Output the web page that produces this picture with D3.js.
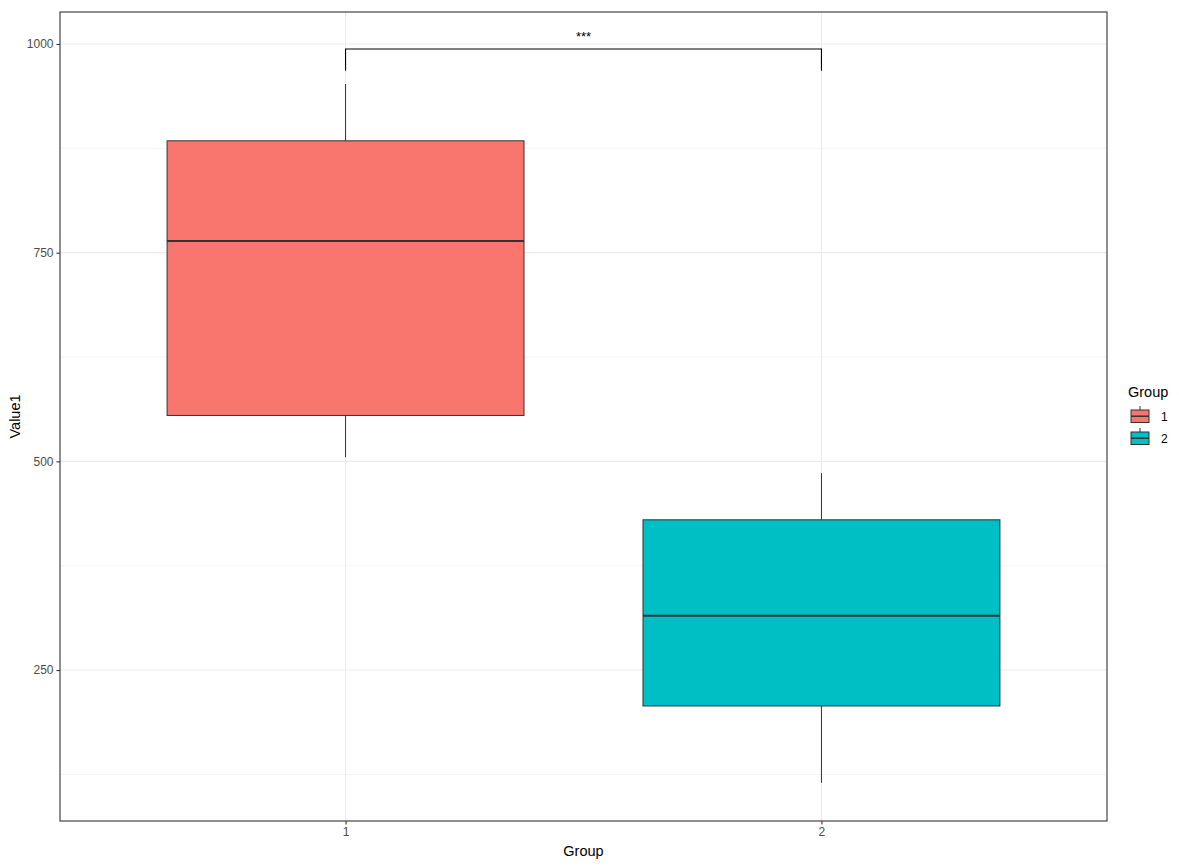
<!DOCTYPE html>
<html>
<head>
<meta charset="utf-8">
<script src="https://cdn.jsdelivr.net/npm/d3@7"></script>
<style>
  body { margin: 0; background: #fff; }
  text { font-family: Arial, "Liberation Sans", sans-serif; }
</style>
</head>
<body>
<svg class="chart" width="1179" height="866"></svg>
<script>
// data
const groups = ["1", "2"];
const colors = ["#F8766D", "#00BFC4"];
const whiskerLow = [505, 115];
const q1 = [555, 207];
const median = [764, 315];
const q3 = [884, 430];
const whiskerHigh = [952, 486];
const yTicks = [250, 500, 750, 1000];
const yMinor = [125, 375, 625, 875];
const bracketY = 994, bracketLegY = 968, sigLabel = "***";

const svg = d3.select(".chart");
const panel = { left: 60, top: 12, right: 1107, bottom: 821 };

const x = d3.scaleLinear().domain([0.4, 2.6]).range([panel.left, panel.right]);
const y = d3.scaleLinear().domain([69.2, 1038.3]).range([panel.bottom, panel.top]);

const g = svg.append("g");

// grid
g.selectAll(".minor").data(yMinor).join("line")
    .attr("x1", panel.left).attr("x2", panel.right)
    .attr("y1", d => y(d)).attr("y2", d => y(d))
    .attr("stroke", "#ebebeb").attr("stroke-width", 0.55);
g.selectAll(".major").data(yTicks).join("line")
    .attr("x1", panel.left).attr("x2", panel.right)
    .attr("y1", d => y(d)).attr("y2", d => y(d))
    .attr("stroke", "#ebebeb").attr("stroke-width", 1.1);
g.selectAll(".vmajor").data(groups).join("line")
    .attr("x1", (d, i) => x(i + 1)).attr("x2", (d, i) => x(i + 1))
    .attr("y1", panel.top).attr("y2", panel.bottom)
    .attr("stroke", "#ebebeb").attr("stroke-width", 1.1);

// boxes
const bw = 0.75;
const box = g.selectAll(".box").data(groups).join("g");
box.append("line")
    .attr("x1", (d, i) => x(i + 1)).attr("x2", (d, i) => x(i + 1))
    .attr("y1", (d, i) => y(whiskerHigh[i])).attr("y2", (d, i) => y(q3[i]))
    .attr("stroke", "#333").attr("stroke-width", 1);
box.append("line")
    .attr("x1", (d, i) => x(i + 1)).attr("x2", (d, i) => x(i + 1))
    .attr("y1", (d, i) => y(q1[i])).attr("y2", (d, i) => y(whiskerLow[i]))
    .attr("stroke", "#333").attr("stroke-width", 1);
box.append("rect")
    .attr("x", (d, i) => x(i + 1 - bw / 2))
    .attr("width", (d, i) => x(i + 1 + bw / 2) - x(i + 1 - bw / 2))
    .attr("y", (d, i) => y(q3[i]))
    .attr("height", (d, i) => y(q1[i]) - y(q3[i]))
    .attr("fill", (d, i) => colors[i])
    .attr("stroke", "#333").attr("stroke-width", 1);
box.append("line")
    .attr("x1", (d, i) => x(i + 1 - bw / 2)).attr("x2", (d, i) => x(i + 1 + bw / 2))
    .attr("y1", (d, i) => y(median[i])).attr("y2", (d, i) => y(median[i]))
    .attr("stroke", "#333").attr("stroke-width", 2);

// significance bracket
g.append("path")
    .attr("d", `M${x(1)},${y(bracketLegY)}V${y(bracketY)}H${x(2)}V${y(bracketLegY)}`)
    .attr("fill", "none").attr("stroke", "#000").attr("stroke-width", 1.1);
g.append("text")
    .attr("x", (x(1) + x(2)) / 2).attr("y", y(bracketY) - 8)
    .attr("text-anchor", "middle").attr("font-size", 13)
    .text(sigLabel);

// panel border
svg.append("rect")
    .attr("x", panel.left).attr("y", panel.top)
    .attr("width", panel.right - panel.left).attr("height", panel.bottom - panel.top)
    .attr("fill", "none").attr("stroke", "#333").attr("stroke-width", 1.1);

// axes
const yAxis = svg.append("g").attr("transform", `translate(${panel.left},0)`)
    .call(d3.axisLeft(y).tickValues(yTicks).tickFormat(d3.format("d")).tickSize(3.5).tickPadding(3));
const xAxis = svg.append("g").attr("transform", `translate(0,${panel.bottom})`)
    .call(d3.axisBottom(x).tickValues([1, 2]).tickFormat((d, i) => groups[i]).tickSize(3.5).tickPadding(3));
[yAxis, xAxis].forEach(a => {
  a.select(".domain").remove();
  a.selectAll(".tick line").attr("stroke", "#333").attr("stroke-width", 1.1);
  a.selectAll(".tick text").attr("fill", "#4d4d4d").attr("font-size", 12)
      .attr("font-family", "Arial, 'Liberation Sans', sans-serif");
});

svg.append("text")
    .attr("x", (panel.left + panel.right) / 2).attr("y", 856)
    .attr("text-anchor", "middle").attr("font-size", 14.5).text("Group");
svg.append("text")
    .attr("transform", `translate(20,${(panel.top + panel.bottom) / 2}) rotate(-90)`)
    .attr("text-anchor", "middle").attr("font-size", 14.5).text("Value1");

// legend
const leg = svg.append("g").attr("transform", "translate(1128,0)");
leg.append("text").attr("x", 0).attr("y", 397).attr("font-size", 14.5).text("Group");
const key = leg.selectAll(".key").data(groups).join("g")
    .attr("transform", (d, i) => `translate(3,${405 + i * 22})`);
key.append("line").attr("x1", 9).attr("x2", 9).attr("y1", 1).attr("y2", 18)
    .attr("stroke", "#333");
key.append("rect").attr("x", 0).attr("y", 5).attr("width", 18).attr("height", 12.5)
    .attr("fill", (d, i) => colors[i]).attr("stroke", "#333");
key.append("line").attr("x1", 0).attr("x2", 18).attr("y1", 11.2).attr("y2", 11.2)
    .attr("stroke", "#333").attr("stroke-width", 1.5);
key.append("text").attr("x", 30).attr("y", 16).attr("font-size", 12).text(d => d);
</script>
</body>
</html>
